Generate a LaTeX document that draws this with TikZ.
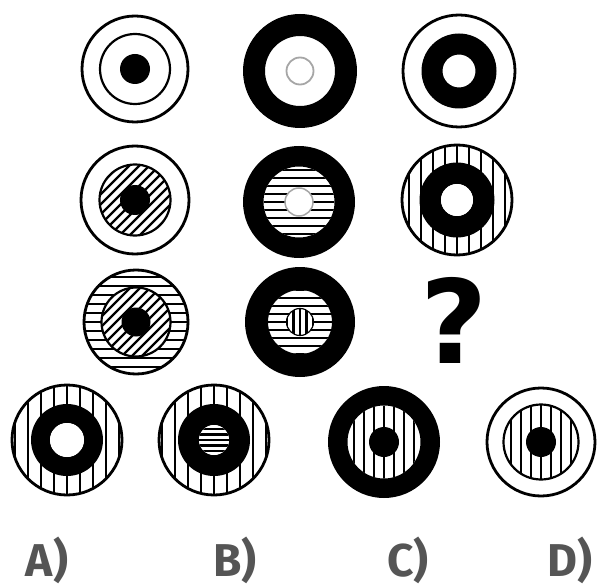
\documentclass[tikz,border=0pt]{standalone}
\usepackage{fontspec}
\setmainfont{Fira Sans}
\newfontfamily\qfont{DejaVu Sans}
\definecolor{grigio}{RGB}{85,85,85}
\tikzset{
  rim/.style={line width=2.8pt},
  rimthin/.style={line width=2.2pt},
  stripe/.style={line width=2.2pt},
}
% righe orizzontali: x, y, raggio, passo
\newcommand{\hlines}[4]{%
  \begin{scope}
    \clip (#1,#2) circle (#3pt);
    \foreach \k in {-9,...,9}
      \draw[stripe] ({#1-#3},{#2+\k*#4}) -- ({#1+#3},{#2+\k*#4});
  \end{scope}}
% righe verticali
\newcommand{\vlines}[4]{%
  \begin{scope}
    \clip (#1,#2) circle (#3pt);
    \foreach \k in {-9,...,9}
      \draw[stripe] ({#1+\k*#4},{#2-#3}) -- ({#1+\k*#4},{#2+#3});
  \end{scope}}
% righe oblique
\newcommand{\dlines}[4]{%
  \begin{scope}
    \clip (#1,#2) circle (#3pt);
    \foreach \k in {-12,...,12}
      \draw[stripe] ({#1+\k*#4-#3},{#2+#3}) -- ({#1+\k*#4+#3},{#2-#3});
  \end{scope}}
% anello nero: x, y, raggio esterno, raggio interno
\newcommand{\anello}[4]{%
  \fill[even odd rule] (#1,#2) circle (#3pt) (#1,#2) circle (#4pt);}
\begin{document}
\begin{tikzpicture}[x=1pt, y=-1pt]
\useasboundingbox (0,0) rectangle (597,588);
% prima riga
\draw[rim] (135,69) circle (53pt);
\draw[rimthin] (135,69) circle (35pt);
\fill (135,69) circle (15pt);
\anello{300}{71}{57}{35}
\draw[line width=1.8pt, gray!70] (300,71) circle (13.5pt);
\draw[rim] (459,71) circle (56pt);
\anello{459}{71}{37.5}{16.5}
% seconda riga
\draw[rim] (135,200) circle (54pt);
\dlines{135}{200}{35.5}{10}
\draw[rimthin] (135,200) circle (35.5pt);
\fill (135,200) circle (15pt);
\hlines{299}{202}{35.5}{8}
\anello{299}{202}{56}{35.5}
\fill[white] (299,202) circle (14pt);
\draw[line width=1.5pt, gray!70] (299,202) circle (14pt);
\vlines{457}{200}{55}{12}
\draw[rim] (457,200) circle (55pt);
\anello{457}{200}{37.5}{16}
\fill[white] (457,200) circle (16pt);
% terza riga
\hlines{136}{322}{52}{9}
\draw[rim] (136,322) circle (52pt);
\fill[white] (136,322) circle (34.5pt);
\dlines{136}{322}{34.5}{10}
\draw[rimthin] (136,322) circle (34.5pt);
\fill (136,322) circle (14.5pt);
\hlines{300}{322}{32}{8}
\anello{300}{322}{55}{32}
\fill[white] (300,322) circle (13.5pt);
\vlines{300}{322}{13.5}{6.5}
\draw[line width=1.2pt] (300,322) circle (13.5pt);
\node[font=\qfont\fontsize{116}{116}\selectfont\bfseries] (domanda) at (454,320) {?};
% risposte
\vlines{67}{440}{55}{13}
\draw[rim] (67,440) circle (55pt);
\anello{67}{440}{36}{17}
\fill[white] (67,440) circle (17pt);
\vlines{214}{440}{55}{13}
\draw[rim] (214,440) circle (55pt);
\anello{214}{440}{36}{15}
\fill[white] (214,440) circle (15pt);
\hlines{214}{440}{15}{5.5}
\vlines{384}{442}{36.5}{10}
\anello{384}{442}{56}{36.5}
\fill (384,442) circle (15pt);
\draw[rim] (541,442) circle (54pt);
\vlines{541}{442}{37.5}{10}
\draw[rimthin] (541,442) circle (37.5pt);
\fill (541,442) circle (15pt);
% lettere
\begin{scope}[font=\fontsize{46}{46}\selectfont\bfseries, text=grigio]
\node (optA) at (47,560) {A)};
\node (optB) at (235,560) {B)};
\node (optC) at (408,560) {C)};
\node (optD) at (570,560) {D)};
\end{scope}
\end{tikzpicture}
\end{document}
